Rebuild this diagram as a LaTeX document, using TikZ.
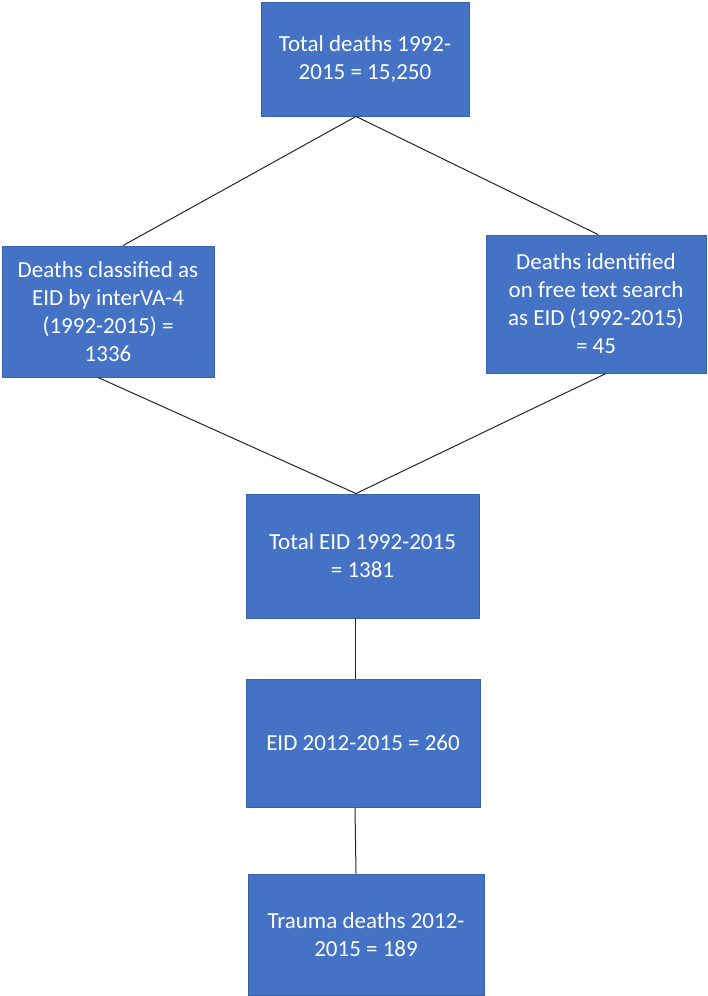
\documentclass[tikz,border=0pt]{standalone}
\usepackage{fontspec}
\setmainfont{Carlito}
\definecolor{boxfill}{HTML}{4472C4}
\definecolor{boxline}{HTML}{3A62AC}
\definecolor{connline}{HTML}{262626}
\tikzset{
  flowbox/.style={rectangle, fill=boxfill, draw=boxline, line width=0.9pt,
    text=white, align=center, inner sep=0pt,
    font=\fontsize{23}{28}\selectfont},
  conn/.style={draw=connline, line width=1pt}
}
\begin{document}
\begin{tikzpicture}[x=1pt,y=-1pt]
\path[use as bounding box, fill=white] (0,0) rectangle (707,996);
\node[flowbox, minimum width=208pt, minimum height=114pt] (top) at (365,59) {Total deaths 1992-\\2015 = 15,250};
\node[flowbox, minimum width=212pt, minimum height=131pt] (left) at (108,311.5) {Deaths classified as\\EID by interVA-4\\(1992-2015) =\\1336};
\node[flowbox, minimum width=220pt, minimum height=138pt] (right) at (596,304) {Deaths identified\\on free text search\\as EID (1992-2015)\\= 45};
\node[flowbox, minimum width=233pt, minimum height=124pt] (mid) at (362.5,556) {Total EID 1992-2015\\= 1381};
\node[flowbox, minimum width=234pt, minimum height=128pt] (eid) at (363,743) {EID 2012-2015 = 260};
\node[flowbox, minimum width=236pt, minimum height=121pt] (trauma) at (366,934.5) {Trauma deaths 2012-\\2015 = 189};
\draw[conn] ([xshift=-9pt]top.south) -- ([xshift=15pt]left.north);
\draw[conn] ([xshift=-9pt]top.south) -- ([xshift=2pt]right.north);
\draw[conn] ([xshift=-10pt]left.south) -- ([xshift=-6.5pt]mid.north);
\draw[conn] ([xshift=10pt]right.south) -- ([xshift=-6.5pt]mid.north);
\draw[conn] ([xshift=-7.5pt]mid.south) -- ([xshift=-8pt]eid.north);
\draw[conn] ([xshift=-8pt]eid.south) -- ([xshift=-10pt]trauma.north);
\end{tikzpicture}
\end{document}
